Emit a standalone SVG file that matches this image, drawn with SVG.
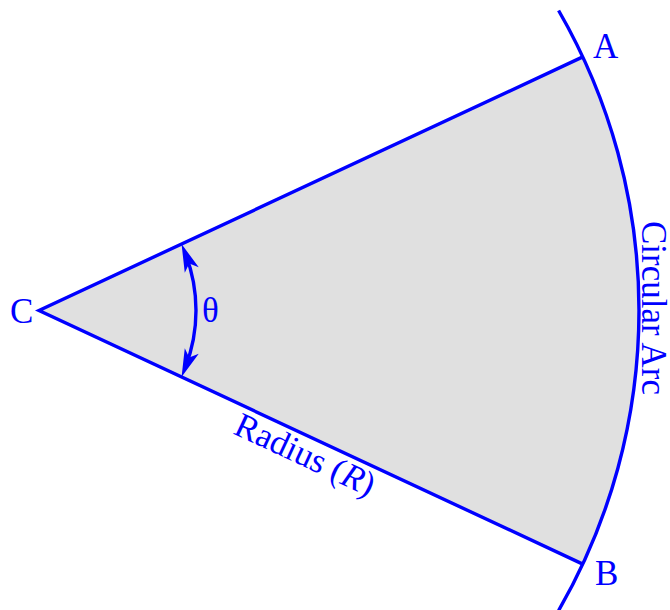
<svg xmlns="http://www.w3.org/2000/svg" width="670" height="610" viewBox="0 0 670 610">
  <defs>
    <style>
      .ln { fill: none; stroke: #0000ff; stroke-width: 3.4; }
      .lbl { font-family: "Liberation Serif", "Times New Roman", serif; font-size: 35px; fill: #0000ff; }
    </style>
    <marker id="ah" markerUnits="userSpaceOnUse" orient="auto-start-reverse" refX="0" refY="0" viewBox="-20 -9 32 18" markerWidth="32" markerHeight="18" overflow="visible">
      <path d="M10,0 L-18,-7.5 L-11,0 L-18,7.5 Z" fill="#0000ff"/>
    </marker>
  </defs>
  <rect width="670" height="610" fill="#ffffff"/>
  <g id="sector">
    <path d="M39,310.5 L582.8,56.9 A600,600 0 0 1 582.8,564.1 Z" fill="#e0e0e0" stroke="none"/>
    <path class="ln" d="M582.8,56.9 L39,310.5 L582.8,564.1"/>
  </g>
  <g id="circular-arc">
    <path class="ln" d="M558.6,10.5 A600,600 0 0 1 558.6,610.5"/>
    <text class="lbl" transform="translate(642,221) rotate(90)">Circular Arc</text>
  </g>
  <g id="connectors">
    <path class="ln" d="M185.2,253.3 A157,157 0 0 1 185.2,367.7" marker-start="url(#ah)" marker-end="url(#ah)"/>
  </g>
  <g id="point-A"><text class="lbl" x="593" y="58">A</text></g>
  <g id="point-B"><text class="lbl" x="595" y="585">B</text></g>
  <g id="point-C"><text class="lbl" x="10" y="323">C</text></g>
  <g id="theta"><text class="lbl" x="202" y="322">θ</text></g>
  <g id="radius-label">
    <text class="lbl" text-anchor="middle" transform="translate(300.3,465) rotate(25)">Radius (<tspan font-style="italic">R</tspan>)</text>
  </g>
</svg>
